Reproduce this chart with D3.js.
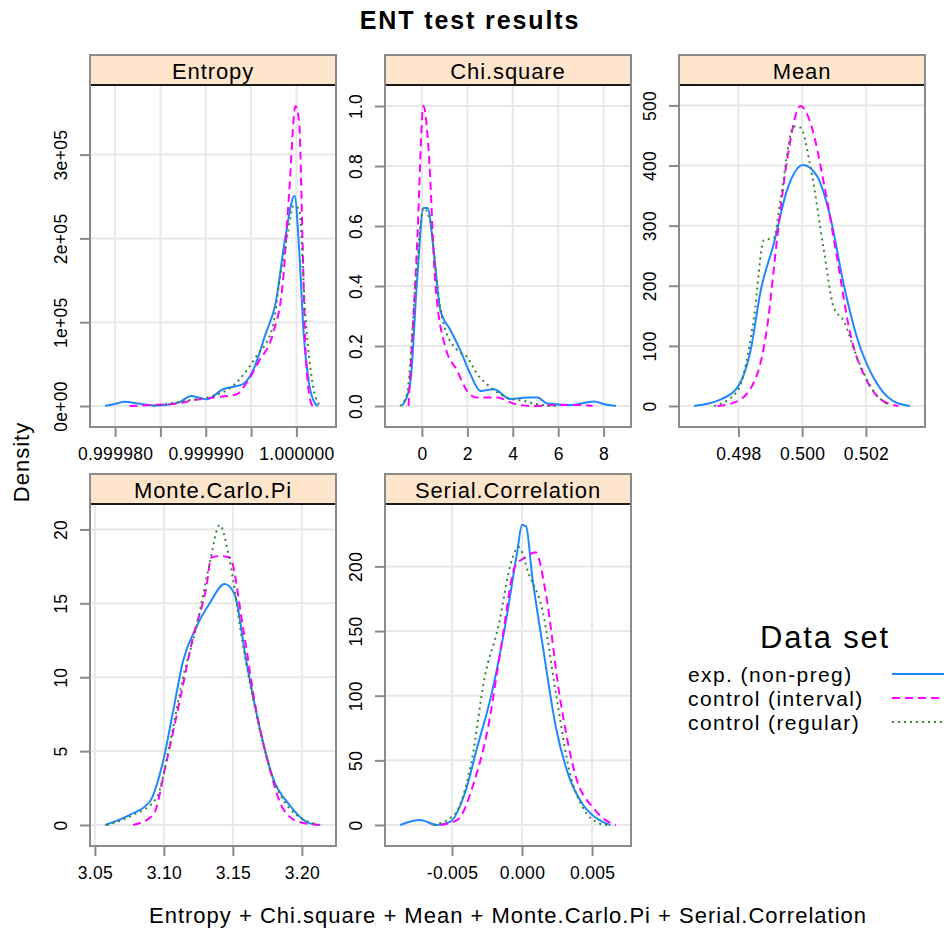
<!DOCTYPE html>
<html>
<head>
<meta charset="utf-8">
<script src="https://cdn.jsdelivr.net/npm/d3@7"></script>
<style>
  body { margin: 0; background: #fff; }
  svg { display: block; font-family: "Liberation Sans", Arial, sans-serif; }
</style>
</head>
<body>
<script>
// data sets (legend order)
var seriesNames = ["exp. (non-preg)", "control (interval)", "control (regular)"];
var seriesColors = ["#1f88ff", "#ff00ff", "#3a853a"];
var seriesDash = ["none", "8,5", "2,4"];

// Entropy densities [value, density]
var entropyExp = [[0.9999789,0],[0.9999800,2500],[0.9999811,5200],[0.9999825,3000],[0.9999846,500],[0.9999870,4000],[0.9999884,12000],[0.9999901,8000],[0.9999919,20000],[0.9999941,26000],[0.9999952,42000],[0.9999966,86000],[0.9999977,122500],[0.9999988,203000],[0.9999998,251000],[1.0000003,187000],[1.0000008,86700],[1.0000014,26500],[1.0000021,2400],[1.0000024,0]];
var entropyInt = [[0.9999816,0],[0.9999846,1500],[0.9999870,3000],[0.9999882,6000],[0.9999908,10000],[0.9999934,14000],[0.9999944,26000],[0.9999959,54000],[0.9999974,86000],[0.9999985,146600],[0.9999992,255000],[0.9999999,358000],[1.0000003,339000],[1.0000007,187000],[1.0000010,66000],[1.0000016,4000],[1.0000018,0]];
var entropyReg = [[0.9999842,0],[0.9999882,7000],[0.9999908,12000],[0.9999930,24000],[0.9999955,58000],[0.9999974,95000],[0.9999981,146600],[0.9999990,203000],[0.9999997,239000],[1.0000003,235000],[1.0000010,106000],[1.0000018,26000],[1.0000025,2000],[1.0000027,0]];

// Chi.square densities
var chiExp = [[-0.88,0],[-0.52,0.073],[-0.22,0.41],[0.07,0.66],[0.25,0.66],[0.51,0.524],[0.81,0.32],[1.25,0.254],[1.69,0.186],[2.13,0.107],[2.58,0.05],[3.17,0.056],[3.9,0.023],[4.64,0.028],[5.08,0.028],[5.52,0.008],[6.55,0.003],[7.58,0.015],[8.03,0.006],[8.54,0]];
var chiInt = [[-0.59,0],[-0.22,0.524],[0.07,1.0],[0.29,0.86],[0.59,0.41],[1.03,0.197],[1.55,0.118],[1.99,0.05],[2.43,0.028],[3.31,0.028],[4.05,0.008],[4.79,0],[5.97,0.003],[7.14,0.003],[7.51,0]];
var chiReg = [[-0.96,0],[-0.66,0.04],[-0.22,0.47],[0.07,0.66],[0.37,0.615],[0.66,0.41],[0.95,0.276],[1.55,0.186],[1.99,0.163],[2.43,0.107],[3.02,0.062],[3.76,0.028],[4.49,0.017],[5.08,0.006],[5.97,0]];

// Mean densities
var meanExp = [[0.49661,0],[0.49745,11],[0.49797,31],[0.49838,92],[0.4987,192],[0.49911,270],[0.49953,360],[0.50003,401],[0.50047,382],[0.50088,315],[0.5013,203],[0.50172,114],[0.50224,47],[0.50286,8],[0.50338,0]];
var meanInt = [[0.49734,0],[0.49797,8],[0.49859,53],[0.4989,131],[0.49922,281],[0.49953,410],[0.49995,499],[0.50026,471],[0.50068,371],[0.50109,248],[0.50151,120],[0.50203,42],[0.50255,8],[0.50302,0]];
var meanReg = [[0.49724,0],[0.49797,25],[0.49849,148],[0.4988,276],[0.49911,279],[0.49932,343],[0.49974,465],[0.49995,463],[0.50026,398],[0.50068,259],[0.50099,164],[0.5013,142],[0.50172,81],[0.50224,25],[0.50276,0]];

// Monte.Carlo.Pi densities
var piExp = [[3.0574,0],[3.0753,0.68],[3.0898,1.59],[3.0994,4.3],[3.1067,7.7],[3.1139,11.1],[3.1236,13.4],[3.1332,15.0],[3.144,16.3],[3.1513,15.6],[3.1597,11.1],[3.1694,6.6],[3.179,3.2],[3.191,1.36],[3.2031,0.22],[3.2115,0]];
var piInt = [[3.0777,0],[3.0922,0.68],[3.1019,4.3],[3.1115,8.4],[3.1211,12.7],[3.1308,16.1],[3.1344,18.1],[3.141,18.2],[3.1477,18.1],[3.1573,13.4],[3.167,7.7],[3.1766,3.85],[3.1862,1.13],[3.1983,0.2],[3.2138,0]];
var piReg = [[3.0585,0],[3.0777,0.68],[3.0946,1.81],[3.1042,5.44],[3.1139,9.97],[3.1236,13.4],[3.1332,17.7],[3.1404,20.3],[3.1477,17.9],[3.1573,12.2],[3.167,7.5],[3.1766,3.85],[3.191,1.13],[3.2125,0]];

// Serial.Correlation densities
var serExp = [[-0.0087,0],[-0.00728,3.9],[-0.00607,0],[-0.0051,2.6],[-0.00413,23],[-0.00315,62],[-0.00218,101],[-0.00122,153],[-0.00036,210],[0.0,232],[0.00029,231],[0.00073,192],[0.00146,140],[0.00243,75],[0.0034,36],[0.00437,15.5],[0.00534,5],[0.00631,0]];
var serInt = [[-0.00583,0],[-0.00461,3.9],[-0.0034,34],[-0.00243,75],[-0.00146,140],[-0.00049,200],[0.00024,207],[0.00097,211],[0.0017,179],[0.00267,101],[0.00388,36],[0.0051,13],[0.00643,1],[0.0067,0]];
var serReg = [[-0.00631,0],[-0.00485,7.8],[-0.0036,49],[-0.00267,114],[-0.0017,153],[-0.00073,205],[-0.00024,215],[0.00049,194],[0.00146,166],[0.00243,101],[0.0034,41],[0.00437,13],[0.00558,1],[0.00607,0]];

// tick values and labels
var entropyXTicks = [0.99998, 0.999985, 0.99999, 0.999995, 1.0];
var entropyXLabels = ["0.999980", "", "0.999990", "", "1.000000"];
var entropyYTicks = [0, 100000, 200000, 300000];
var entropyYLabels = ["0e+00", "1e+05", "2e+05", "3e+05"];
var chiXTicks = [0, 2, 4, 6, 8];
var chiXLabels = ["0", "2", "4", "6", "8"];
var chiYTicks = [0, 0.2, 0.4, 0.6, 0.8, 1.0];
var chiYLabels = ["0.0", "0.2", "0.4", "0.6", "0.8", "1.0"];
var meanXTicks = [0.498, 0.5, 0.502];
var meanXLabels = ["0.498", "0.500", "0.502"];
var meanYTicks = [0, 100, 200, 300, 400, 500];
var meanYLabels = ["0", "100", "200", "300", "400", "500"];
var piXTicks = [3.05, 3.10, 3.15, 3.20];
var piXLabels = ["3.05", "3.10", "3.15", "3.20"];
var piYTicks = [0, 5, 10, 15, 20];
var piYLabels = ["0", "5", "10", "15", "20"];
var serXTicks = [-0.005, 0, 0.005];
var serXLabels = ["-0.005", "0.000", "0.005"];
var serYTicks = [0, 50, 100, 150, 200];
var serYLabels = ["0", "50", "100", "150", "200"];

var panels = [
    {name: "Entropy", col: 0, row: 0, curves: [entropyExp, entropyInt, entropyReg], xt: entropyXTicks, xl: entropyXLabels, yt: entropyYTicks, yl: entropyYLabels},
    {name: "Chi.square", col: 1, row: 0, curves: [chiExp, chiInt, chiReg], xt: chiXTicks, xl: chiXLabels, yt: chiYTicks, yl: chiYLabels},
    {name: "Mean", col: 2, row: 0, curves: [meanExp, meanInt, meanReg], xt: meanXTicks, xl: meanXLabels, yt: meanYTicks, yl: meanYLabels},
    {name: "Monte.Carlo.Pi", col: 0, row: 1, curves: [piExp, piInt, piReg], xt: piXTicks, xl: piXLabels, yt: piYTicks, yl: piYLabels},
    {name: "Serial.Correlation", col: 1, row: 1, curves: [serExp, serInt, serReg], xt: serXTicks, xl: serXLabels, yt: serYTicks, yl: serYLabels}
];

var w = 944, h = 929;
var colX = [90, 385, 679], panelW = 246;
var rowTop = [55, 474], stripH = 30, plotH = 342;
var frameColor = "#8a8a8a";

var svg = d3.select("body").append("svg")
    .attr("width", w)
    .attr("height", h);

// title
svg.append("text")
    .attr("x", 470).attr("y", 29)
    .attr("text-anchor", "middle")
    .attr("font-size", 25).attr("font-weight", "bold")
    .style("letter-spacing", "1.9px")
    .text("ENT test results");

panels.forEach(function (p) {
    var all = d3.merge(p.curves);
    var xExt = d3.extent(all, function (d) { return d[0]; });
    var xPad = (xExt[1] - xExt[0]) * 0.07;
    var yMax = d3.max(all, function (d) { return d[1]; });

    var xScale = d3.scaleLinear()
        .domain([xExt[0] - xPad, xExt[1] + xPad])
        .range([0, panelW]);
    var yScale = d3.scaleLinear()
        .domain([-0.07 * yMax, 1.07 * yMax])
        .range([plotH, 0]);

    var top = rowTop[p.row];
    var g = svg.append("g")
        .attr("transform", "translate(" + colX[p.col] + "," + (top + stripH) + ")");

    // grid
    g.selectAll(".vgrid").data(p.xt).enter().append("line")
        .attr("x1", function (d) { return xScale(d); })
        .attr("x2", function (d) { return xScale(d); })
        .attr("y1", 0).attr("y2", plotH)
        .attr("stroke", "#e8e8e8").attr("stroke-width", 2);
    g.selectAll(".hgrid").data(p.yt).enter().append("line")
        .attr("y1", function (d) { return yScale(d); })
        .attr("y2", function (d) { return yScale(d); })
        .attr("x1", 0).attr("x2", panelW)
        .attr("stroke", "#e8e8e8").attr("stroke-width", 2);

    // density curves
    var line = d3.line()
        .x(function (d) { return xScale(d[0]); })
        .y(function (d) { return yScale(d[1]); })
        .curve(d3.curveMonotoneX);
    g.selectAll(".curve").data(p.curves).enter().append("path")
        .attr("fill", "none")
        .attr("stroke", function (d, i) { return seriesColors[i]; })
        .attr("stroke-dasharray", function (d, i) { return seriesDash[i]; })
        .attr("stroke-width", 2)
        .attr("d", line);

    // axes
    var yAxis = d3.axisLeft(yScale)
        .tickValues(p.yt)
        .tickFormat(function (d, i) { return p.yl[i]; })
        .tickSize(10);
    var ya = g.append("g").call(yAxis)
        .attr("font-family", null).attr("font-size", 17.5);
    ya.select(".domain").remove();
    ya.selectAll("line").attr("stroke", frameColor).attr("stroke-width", 2);
    ya.selectAll("text")
        .attr("fill", "#000")
        .attr("transform", "rotate(-90)")
        .attr("x", 0).attr("y", -23).attr("dy", null)
        .attr("text-anchor", "middle")
        .style("letter-spacing", "0.3px");

    var xAxis = d3.axisBottom(xScale)
        .tickValues(p.xt)
        .tickFormat(function (d, i) { return p.xl[i]; })
        .tickSize(10);
    var xa = g.append("g")
        .attr("transform", "translate(0," + plotH + ")")
        .call(xAxis)
        .attr("font-family", null).attr("font-size", 17.5);
    xa.select(".domain").remove();
    xa.selectAll("line").attr("stroke", frameColor).attr("stroke-width", 2);
    xa.selectAll("text")
        .attr("fill", "#000")
        .attr("y", 33).attr("dy", null)
        .style("letter-spacing", "0.3px");

    // strip
    svg.append("rect")
        .attr("x", colX[p.col]).attr("y", top)
        .attr("width", panelW).attr("height", stripH)
        .attr("fill", "#ffe5cc");
    svg.append("line")
        .attr("x1", colX[p.col]).attr("x2", colX[p.col] + panelW)
        .attr("y1", top + stripH).attr("y2", top + stripH)
        .attr("stroke", "#1a1a1a").attr("stroke-width", 2);
    svg.append("text")
        .attr("x", colX[p.col] + panelW / 2).attr("y", top + 24)
        .attr("text-anchor", "middle")
        .attr("font-size", 22)
        .style("letter-spacing", "0.9px")
        .text(p.name);

    // frame
    svg.append("rect")
        .attr("x", colX[p.col]).attr("y", top)
        .attr("width", panelW).attr("height", stripH + plotH)
        .attr("fill", "none")
        .attr("stroke", frameColor).attr("stroke-width", 2);
});

// axis titles
svg.append("text")
    .attr("transform", "translate(29,462) rotate(-90)")
    .attr("text-anchor", "middle")
    .attr("font-size", 22)
    .style("letter-spacing", "1px")
    .text("Density");

svg.append("text")
    .attr("x", 508).attr("y", 923)
    .attr("text-anchor", "middle")
    .attr("font-size", 22)
    .style("letter-spacing", "1px")
    .text("Entropy + Chi.square + Mean + Monte.Carlo.Pi + Serial.Correlation");

// legend
svg.append("text")
    .attr("x", 825).attr("y", 648)
    .attr("text-anchor", "middle")
    .attr("font-size", 31)
    .style("letter-spacing", "1.8px")
    .text("Data set");

var legend = svg.selectAll(".legend").data(seriesNames).enter().append("g")
    .attr("transform", function (d, i) { return "translate(0," + (674 + i * 24) + ")"; });
legend.append("text")
    .attr("x", 688).attr("y", 8)
    .attr("font-size", 21)
    .style("letter-spacing", "1.4px")
    .text(function (d) { return d; });
legend.append("line")
    .attr("x1", 892).attr("x2", 950)
    .attr("stroke", function (d, i) { return seriesColors[i]; })
    .attr("stroke-dasharray", function (d, i) { return seriesDash[i]; })
    .attr("stroke-width", 2);
</script>
</body>
</html>
